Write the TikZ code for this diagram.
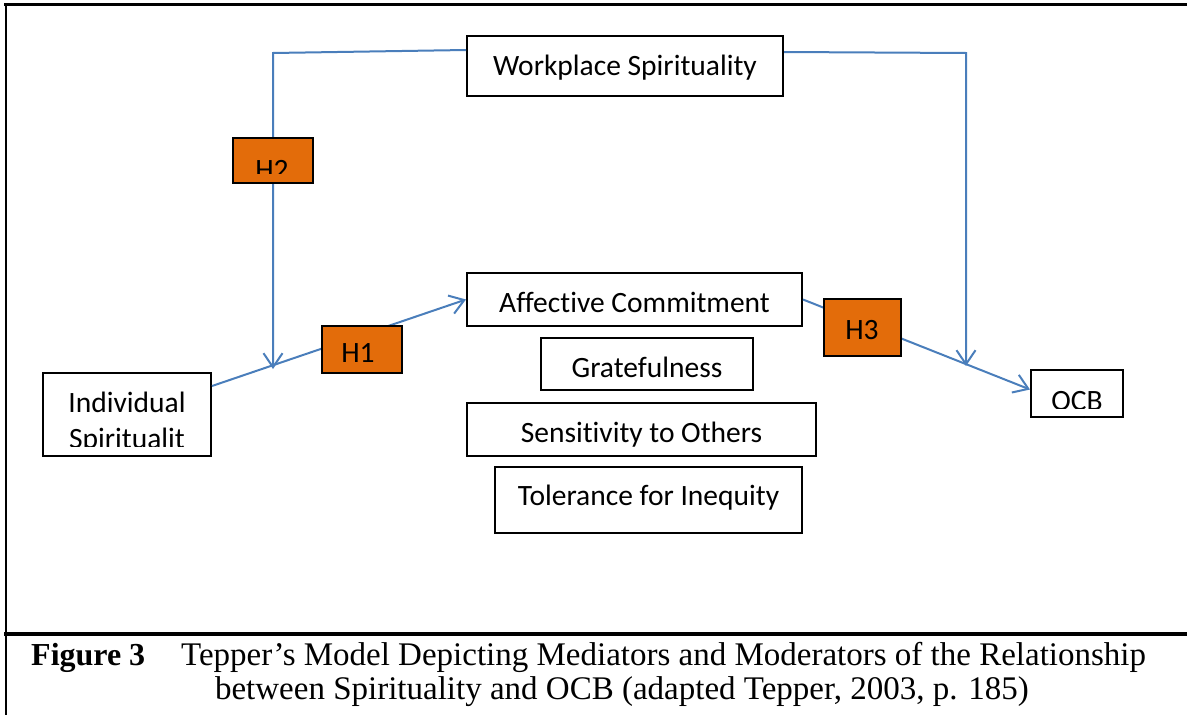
\documentclass[tikz,border=0pt]{standalone}
\usepackage{fontspec}
\setmainfont{Liberation Serif}
\newfontfamily\boxfont[Ligatures=NoCommon]{Carlito}
\usetikzlibrary{arrows.meta}

\definecolor{linkblue}{HTML}{4A7EBB}
\definecolor{hypo}{HTML}{E36C0A}

\tikzset{
  box/.style={draw=black, line width=2pt, fill=white, rectangle, inner sep=0pt},
  hbox/.style={box, fill=hypo},
  boxtext/.style={font=\boxfont\fontsize{29.5}{35}\selectfont, inner sep=0pt, anchor=base},
  capfont/.style={font=\fontsize{33}{38}\selectfont, inner sep=0pt},
  link/.style={draw=linkblue, line width=2pt},
  arrowlink/.style={link, -{Straight Barb[length=14pt,width=19pt]}},
  frameline/.style={draw=black, line cap=rect}
}

\begin{document}
\begin{tikzpicture}[x=1pt, y=-1pt]
  \useasboundingbox (0,0) rectangle (1187,715);

  % outer frame and caption rule
  \draw[frameline, line width=3pt] (5,4) -- (1187,4);
  \draw[frameline, line width=2.5pt] (6,4) -- (6,715);
  \draw[frameline, line width=4pt] (6,633.5) -- (1187,633.5);

  % construct boxes
  \node[box, minimum width=316pt, minimum height=60pt] (wp) at (625,66) {};
  \node[box, minimum width=335pt, minimum height=53pt] (ac) at (634.5,299.5) {};
  \node[box, minimum width=212pt, minimum height=52pt] (gr) at (647,364) {};
  \node[box, minimum width=349pt, minimum height=53pt] (so) at (641.5,429.5) {};
  \node[box, minimum width=307pt, minimum height=66pt] (ti) at (648.5,500) {};
  \node[box, minimum width=168pt, minimum height=83pt] (ind) at (127,414.5) {};
  \node[box, minimum width=92pt, minimum height=47pt] (ocb) at (1077,393.5) {};

  % box labels
  \node[boxtext] (wpT) at (625,75) {Workplace Spirituality};
  \node[boxtext] (acT) at (634.5,312) {Affective Commitment};
  \node[boxtext] (grT) at (647,377) {Gratefulness};
  \node[boxtext] (soT) at (641.5,442) {Sensitivity to Others};
  \node[boxtext] (tiT) at (648.5,505) {Tolerance for Inequity};
  \begin{scope}
    \clip (43,373) rectangle (211,446.5);
    \node[boxtext] (indT1) at (127,412) {Individual};
    \node[boxtext] (indT2) at (127,448) {Spiritualit};
  \end{scope}
  \begin{scope}
    \clip (1031,370) rectangle (1123,408);
    \node[boxtext] (ocbT) at (1077,410) {OCB};
  \end{scope}

  % connectors
  \coordinate (c1) at (273,53);
  \coordinate (j1) at (273,369);
  \coordinate (c2) at (966,53);
  \coordinate (j2) at (966,366);
  \draw[arrowlink] ([yshift=-15pt]wp.north west) -- (c1) -- (j1);
  \draw[arrowlink] ([yshift=-17pt]wp.north east) -- (c2) -- (j2);
  \draw[arrowlink] ([yshift=-14pt]ind.north east) -- (ac.west);
  \draw[arrowlink] (ac.east) -- ([yshift=4pt]ocb.west);

  % hypothesis markers
  \node[hbox, minimum width=80pt, minimum height=45pt] (h2) at (273,160.5) {};
  \begin{scope}
    \clip (233,138) rectangle (313,173);
    \node[boxtext] (h2T) at (272,179) {H2};
  \end{scope}
  \node[hbox, minimum width=80pt, minimum height=47pt] (h1) at (362,349.5) {};
  \node[boxtext] (h1T) at (358,362) {H1};
  \node[hbox, minimum width=77pt, minimum height=57pt] (h3) at (862.5,327.5) {};
  \node[boxtext] (h3T) at (862,339) {H3};

  % caption
  \node[capfont, anchor=base west, font=\fontsize{32}{38}\selectfont\bfseries] (capA) at (31,665) {Figure 3};
  \node[capfont, anchor=base west] (capB) at (181,665) {Tepper’s Model Depicting Mediators and Moderators of the Relationship};
  \node[capfont, anchor=base] (capC) at (622,699) {between Spirituality and OCB (adapted Tepper, 2003, p. 185)};
\end{tikzpicture}
\end{document}
